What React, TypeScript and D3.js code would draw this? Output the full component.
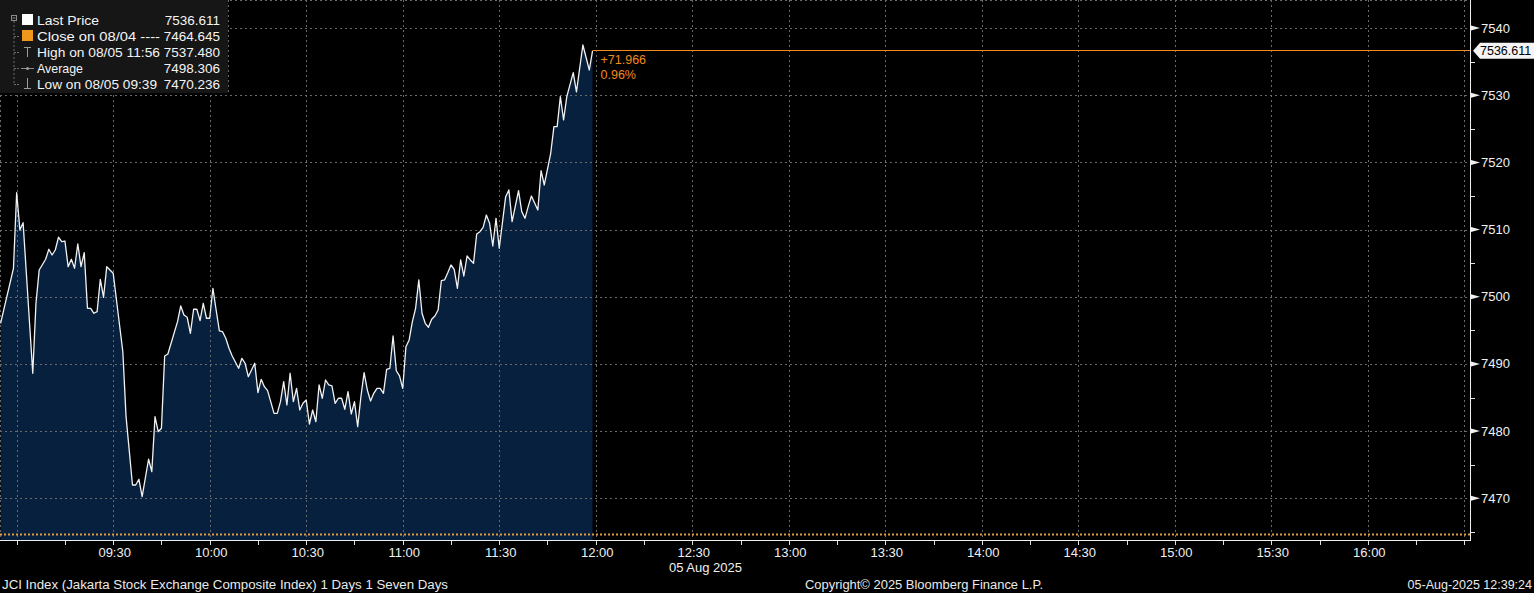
import React from "react";
import * as d3 from "d3";

// ---- data ----
const times = [
  "08:55","08:59","09:00","09:01","09:02","09:05","09:06","09:07","09:09","09:10",
  "09:11","09:12","09:13","09:14","09:15","09:16","09:17","09:18","09:19","09:20",
  "09:21","09:22","09:23","09:24","09:25","09:26","09:27","09:28","09:30","09:33",
  "09:34","09:36","09:37","09:38","09:39","09:41","09:42","09:43","09:44","09:45",
  "09:46","09:47","09:50","09:51","09:52","09:53","09:54","09:55","09:56","09:57",
  "09:58","09:59","10:00","10:01","10:02","10:03","10:04","10:05","10:06","10:07",
  "10:09","10:10","10:11","10:12","10:14","10:15","10:16","10:17","10:18","10:20",
  "10:21","10:22","10:23","10:24","10:25","10:26","10:27","10:28","10:29","10:30",
  "10:31","10:32","10:33","10:34","10:35","10:36","10:37","10:38","10:39","10:40",
  "10:41","10:42","10:43","10:44","10:45","10:46","10:47","10:48","10:49","10:50",
  "10:51","10:52","10:53","10:54","10:55","10:56","10:57","10:58","10:59","11:00",
  "11:01","11:02","11:03","11:04","11:05","11:06","11:07","11:08","11:09","11:10",
  "11:11","11:12","11:13","11:14","11:15","11:16","11:17","11:18","11:19","11:20",
  "11:21","11:22","11:23","11:24","11:25","11:26","11:27","11:28","11:29","11:30",
  "11:32","11:33","11:34","11:36","11:37","11:38","11:39","11:40","11:42","11:43",
  "11:44","11:46","11:47","11:48","11:49","11:50","11:51","11:53","11:54","11:56",
  "11:58","11:59"
];
const values = [
  7496.05,7504.24,7515.49,7509.94,7511.03,7488.61,7499.03,7503.99,7505.58,7507.07,
  7506.22,7506.96,7508.86,7508.20,7508.30,7504.48,7505.58,7504.24,7507.86,7504.48,
  7506.56,7498.28,7498.28,7497.54,7497.78,7502.60,7499.92,7504.48,7503.50,7491.82,
  7482.15,7471.98,7471.98,7472.83,7470.24,7475.81,7473.96,7482.15,7479.91,7480.42,
  7491.18,7491.48,7496.29,7498.63,7497.29,7496.95,7494.56,7498.14,7498.14,7496.44,
  7499.03,7496.80,7496.80,7501.26,7498.03,7494.91,7494.80,7493.82,7492.33,7491.18,
  7489.35,7490.84,7490.10,7488.10,7490.10,7485.72,7487.71,7486.61,7486.02,7482.65,
  7482.65,7484.38,7487.36,7483.89,7488.61,7484.38,7486.37,7483.14,7484.14,7484.63,
  7481.06,7483.14,7481.40,7486.87,7484.89,7487.61,7486.87,7486.72,7484.14,7484.89,
  7484.89,7483.25,7485.87,7482.55,7484.38,7480.66,7485.12,7488.70,7486.12,7484.48,
  7485.63,7486.37,7486.37,7485.63,7489.20,7489.35,7494.16,7488.99,7488.21,7486.37,
  7492.57,7493.57,7496.29,7498.28,7502.50,7497.54,7496.05,7495.46,7496.65,7497.14,
  7498.03,7502.39,7502.50,7503.58,7504.73,7504.09,7501.26,7505.48,7503.09,7506.07,
  7505.48,7504.98,7509.35,7509.69,7510.34,7512.17,7510.94,7507.56,7511.68,7507.22,
  7514.90,7515.90,7511.18,7515.79,7512.67,7511.68,7513.41,7515.00,7512.92,7518.77,
  7516.64,7521.36,7525.32,7525.32,7529.79,7526.32,7529.79,7533.36,7530.50,7537.48,
  7533.76,7536.61
];

const yTickValues = [7470, 7480, 7490, 7500, 7510, 7520, 7530, 7540];
const yMinorTickValues = [7465, 7475, 7485, 7495, 7505, 7515, 7525, 7535];
const xGridTimes = ["09:00","09:30","10:00","10:30","11:00","11:30","12:00","12:30","13:00","13:30","14:00","14:30","15:00","15:30","16:00","16:30"];
const xTickLabels = ["09:30","10:00","10:30","11:00","11:30","12:00","12:30","13:00","13:30","14:00","14:30","15:00","15:30","16:00"];
const prevClose = 7464.645;
const lastPrice = 7536.611;
const lastPriceLabel = "7536.611";
const changeLabel = "+71.966";
const changePctLabel = "0.96%";
const legendLabels = ["Last Price", "Close on 08/04 ----", "High on 08/05 11:56", "Average", "Low on 08/05 09:39"];
const legendLabelWidths = [62, 123, 123, 46, 120];
const legendValues = ["7536.611", "7464.645", "7537.480", "7498.306", "7470.236"];
const dateLabel = "05 Aug 2025";
const footerLeft = "JCI Index (Jakarta Stock Exchange Composite Index) 1 Days 1 Seven Days";
const footerMid = "Copyright\u00A9 2025 Bloomberg Finance L.P.";
const footerRight = "05-Aug-2025 12:39:24";

// ---- layout ----
const W = 1534;
const H = 593;
const plotRight = 1471;
const plotBottom = 541;
const FONT = "'Liberation Sans', Arial, sans-serif";
const ORANGE = "#f28a1e";

const toDate = (s: string, sec = 0) => {
  const [h, m] = s.split(":").map(Number);
  return new Date(2025, 7, 5, h, m, sec);
};

export default function App() {
  const x = d3
    .scaleTime()
    .domain([toDate("08:54", 49), toDate("16:32", 4)])
    .range([0, plotRight]);
  const y = d3.scaleLinear().domain([7463.64, 7544.18]).range([plotBottom, 0]);

  const pts = times.map((t, i) => ({ t: toDate(t), v: values[i] }));
  const line = d3
    .line<{ t: Date; v: number }>()
    .x((d) => x(d.t))
    .y((d) => y(d.v));
  const area = d3
    .area<{ t: Date; v: number }>()
    .x((d) => x(d.t))
    .y0(plotBottom)
    .y1((d) => y(d.v));

  const xTicks = d3.timeMinute.every(15)!.range(toDate("09:00"), toDate("16:31"));
  const last = pts[pts.length - 1];
  const lastX = x(last.t);
  const lastY = y(lastPrice);
  const closeY = y(prevClose);

  const gridStyle = { stroke: "#6a6a6a", strokeWidth: 1, strokeDasharray: "2,3" };

  return (
    <svg
      width={W}
      height={H}
      style={{ position: "absolute", left: 0, top: 0, display: "block", background: "#000" }}
      fontFamily={FONT}
    >
      <rect x={0} y={0} width={W} height={H} fill="#000" />

      {/* area */}
      <path d={area(pts) || ""} fill="#06203e" />

      {/* grid */}
      {yTickValues.map((v) => (
        <line key={"gy" + v} x1={0} x2={plotRight} y1={Math.round(y(v)) + 0.5} y2={Math.round(y(v)) + 0.5} {...gridStyle} />
      ))}
      {xGridTimes.map((t) => (
        <line key={"gx" + t} x1={Math.round(x(toDate(t))) + 0.5} x2={Math.round(x(toDate(t))) + 0.5} y1={0} y2={plotBottom} {...gridStyle} />
      ))}
      <line x1={0.5} x2={0.5} y1={0} y2={plotBottom} {...gridStyle} />
      <line x1={0} x2={plotRight} y1={0.5} y2={0.5} {...gridStyle} />

      {/* previous close */}
      <line x1={0} x2={plotRight} y1={Math.round(closeY) + 0.5} y2={Math.round(closeY) + 0.5} stroke="#e09a40" strokeWidth={2} strokeDasharray="2,2" />

      {/* price line */}
      <path d={line(pts) || ""} fill="none" stroke="#f2f2f2" strokeWidth={1.3} strokeLinejoin="round" />

      {/* last price */}
      <line x1={lastX} x2={plotRight} y1={Math.round(lastY) - 0.5} y2={Math.round(lastY) - 0.5} stroke={ORANGE} strokeWidth={1} />
      <text x={lastX + 8} y={lastY + 13} fill={ORANGE} fontSize={12.5}>{changeLabel}</text>
      <text x={lastX + 8} y={lastY + 28} fill={ORANGE} fontSize={12.5}>{changePctLabel}</text>

      {/* axes */}
      <line x1={0} x2={plotRight} y1={plotBottom - 0.5} y2={plotBottom - 0.5} stroke="#f0f0f0" strokeWidth={1} />
      <line x1={plotRight - 0.5} x2={plotRight - 0.5} y1={0} y2={plotBottom} stroke="#f0f0f0" strokeWidth={1} />
      {xTicks.map((d, i) => (
        <line key={"xt" + i} x1={Math.round(x(d)) + 0.5} x2={Math.round(x(d)) + 0.5} y1={plotBottom} y2={plotBottom + 4} stroke="#e0e0e0" />
      ))}
      {xTickLabels.map((t) => (
        <text key={"xl" + t} x={x(toDate(t)) + 1.5} y={556.5} fill="#f0f0f0" fontSize={13} textAnchor="middle">
          {t}
        </text>
      ))}
      <text x={669} y={572} fill="#f0f0f0" fontSize={13}>{dateLabel}</text>

      {yMinorTickValues.map((v) => (
        <line key={"ym" + v} x1={plotRight} x2={plotRight + 4} y1={Math.round(y(v)) + 0.5} y2={Math.round(y(v)) + 0.5} stroke="#e0e0e0" />
      ))}
      {yTickValues.map((v) => {
        const yy = y(v);
        return (
          <g key={"yt" + v}>
            <path d={`M${plotRight},${yy - 2.5} L${plotRight + 9},${yy} L${plotRight},${yy + 2.5} Z`} fill="#f0f0f0" />
            <text x={plotRight + 10} y={yy} dy="0.35em" fill="#f0f0f0" fontSize={13}>
              {v}
            </text>
          </g>
        );
      })}

      {/* last price tag */}
      <path
        d={`M${plotRight + 2},${lastY} L${plotRight + 9},${lastY - 8} L${W},${lastY - 8} L${W},${lastY + 8} L${plotRight + 9},${lastY + 8} Z`}
        fill="#f4f4f4"
      />
      <text x={plotRight + 9} y={lastY} dy="0.35em" fill="#000" fontSize={12.5}>
        {lastPriceLabel}
      </text>

      {/* legend */}
      <rect x={0} y={0} width={228} height={93} fill="#161616" />
      <line x1={228.5} x2={228.5} y1={0} y2={93} {...gridStyle} />
      <rect x={11.5} y={15.5} width={5} height={5} fill="none" stroke="#8a8a8a" />
      <line x1={12.5} x2={15.5} y1={18} y2={18} stroke="#8a8a8a" />
      <line x1={14} x2={14} y1={21} y2={85} stroke="#6a6a6a" strokeDasharray="2,2" />
      {[36, 52, 68, 84].map((yy) => (
        <line key={"st" + yy} x1={14} x2={20} y1={yy + 0.5} y2={yy + 0.5} stroke="#6a6a6a" strokeDasharray="2,1" />
      ))}
      <rect x={22} y={14} width={11} height={11} fill="#ffffff" />
      <rect x={22} y={30} width={11} height={11} fill="#f0981c" />
      <line x1={27.5} x2={27.5} y1={47} y2={57} stroke="#9a9a9a" />
      <line x1={24} x2={31} y1={47.5} y2={47.5} stroke="#9a9a9a" />
      <line x1={21} x2={34} y1={68.5} y2={68.5} stroke="#8a8a8a" />
      <circle cx={27.5} cy={68.5} r={1.6} fill="#9a9a9a" />
      <line x1={27.5} x2={27.5} y1={78} y2={89} stroke="#9a9a9a" />
      <line x1={24} x2={31} y1={88.5} y2={88.5} stroke="#9a9a9a" />
      {legendLabels.map((l, i) => (
        <text
          key={"ll" + i}
          x={37}
          y={25 + i * 16}
          fill="#f4f4f4"
          fontSize={13.5}
          textLength={legendLabelWidths[i]}
          lengthAdjust="spacingAndGlyphs"
        >
          {l}
        </text>
      ))}
      {legendValues.map((v, i) => (
        <text key={"lv" + i} x={220} y={25 + i * 16} fill="#f4f4f4" fontSize={13.5} textAnchor="end">
          {v}
        </text>
      ))}

      {/* footer */}
      <text x={2} y={589} fill="#eaeaea" fontSize={12.5} textLength={446} lengthAdjust="spacingAndGlyphs">
        {footerLeft}
      </text>
      <text x={805} y={589} fill="#eaeaea" fontSize={12.5} textLength={238} lengthAdjust="spacingAndGlyphs">
        {footerMid}
      </text>
      <text x={1532} y={589} fill="#eaeaea" fontSize={12.5} textAnchor="end">
        {footerRight}
      </text>
    </svg>
  );
}
